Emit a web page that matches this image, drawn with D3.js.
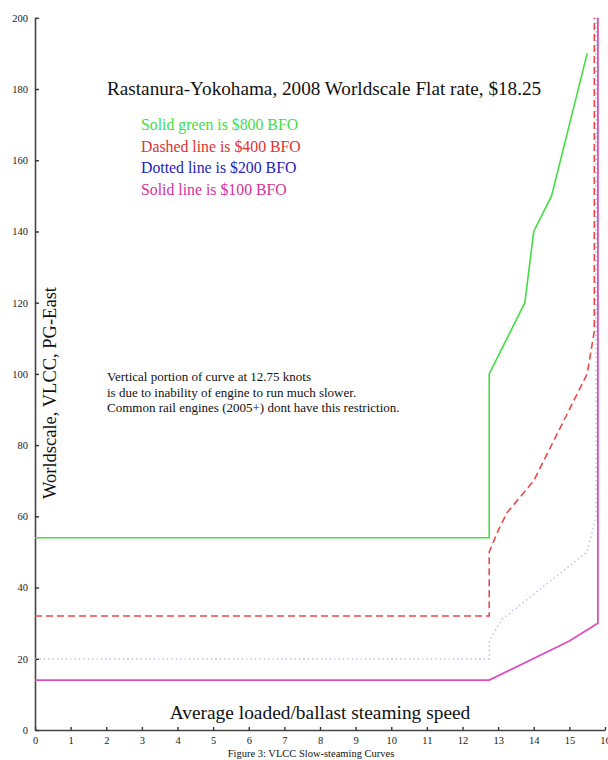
<!DOCTYPE html>
<html>
<head>
<meta charset="utf-8">
<script src="https://cdn.jsdelivr.net/npm/d3@7"></script>
<style>
  body { margin: 0; background: #fff; }
  text { font-family: "Liberation Serif", "DejaVu Serif", serif; }
</style>
</head>
<body>
<div id="chart"></div>
<script>
// values (knots, worldscale)
var xTicks = [0, 1, 2, 3, 4, 5, 6, 7, 8, 9, 10, 11, 12, 13, 14, 15, 16];
var yTicks = [0, 20, 40, 60, 80, 100, 120, 140, 160, 180, 200];

var green800 = [[0, 54], [12.75, 54], [12.75, 100], [13.75, 120], [14, 140], [14.5, 150], [15.5, 190]];
var red400 = [[0, 32], [12.75, 32], [12.75, 50], [13, 56], [13.25, 61], [14, 70], [15.5, 100], [15.7, 112], [15.7, 200]];
var blue200 = [[0, 20], [12.75, 20], [12.75, 25], [13.1, 31], [15.5, 50], [15.75, 60], [15.75, 200]];
var pink100 = [[0, 14], [12.75, 14], [15, 25], [15.8, 30], [15.8, 200]];

var legendLines = ['Solid green is $800 BFO', 'Dashed line is $400 BFO', 'Dotted line is $200 BFO', 'Solid line is $100 BFO'];
var legendColors = ['#44dd44', '#e03333', '#2323b8', '#d2339c'];
var noteLines = ['Vertical portion of curve at 12.75 knots',
    'is due to inability of engine to run much slower.',
    'Common rail engines (2005+) dont have this restriction.'];

var width = 608, height = 760;
var svg = d3.select('#chart').append('svg')
    .attr('width', width)
    .attr('height', height);

var x = d3.scaleLinear().domain([0, 16]).range([35, 605]);
var y = d3.scaleLinear().domain([0, 200]).range([730, 17.8]);

// axes - ticks point inwards like the original
var xAxis = svg.append('g')
    .attr('transform', 'translate(0,' + y(0) + ')')
    .call(d3.axisBottom(x).tickValues(xTicks).tickSize(-3).tickSizeOuter(0).tickPadding(6));
var yAxis = svg.append('g')
    .attr('transform', 'translate(' + x(0) + ',0)')
    .call(d3.axisLeft(y).tickValues(yTicks).tickSize(-4).tickSizeOuter(0).tickPadding(8));

[xAxis, yAxis].forEach(function(ax){
    ax.select('.domain').attr('stroke', '#444').attr('stroke-width', 1.6);
    ax.selectAll('.tick line').attr('stroke', '#333').attr('stroke-width', 1.4);
    ax.selectAll('.tick text')
        .attr('fill', '#222')
        .style('font-family', '"Liberation Serif", serif')
        .style('font-size', '10.5px');
});
xAxis.selectAll('.tick text').attr('y', 7);
yAxis.selectAll('.tick text').attr('x', -7);

var line = d3.line()
    .x(function(d){ return x(d[0]); })
    .y(function(d){ return y(d[1]); });

svg.append('path').datum(blue200)
    .attr('d', line).attr('fill', 'none')
    .attr('stroke', '#a4a8dc').attr('stroke-width', 1.2)
    .attr('stroke-dasharray', '1.2,3.2');

svg.append('path').datum(red400)
    .attr('d', line).attr('fill', 'none')
    .attr('stroke', '#e84a4a').attr('stroke-width', 1.6)
    .attr('stroke-dasharray', '7,4');

svg.append('path').datum(green800)
    .attr('d', line).attr('fill', 'none')
    .attr('stroke', '#44dd44').attr('stroke-width', 1.6);

svg.append('path').datum(pink100)
    .attr('d', line).attr('fill', 'none')
    .attr('stroke', '#dd4ebf').attr('stroke-width', 1.8);

// title
svg.append('text')
    .attr('x', 107).attr('y', 95)
    .style('font-size', '19.2px')
    .attr('fill', '#111')
    .text('Rastanura-Yokohama, 2008 Worldscale Flat rate, $18.25');

// legend text
svg.selectAll('.legend').data(legendLines).enter().append('text')
    .attr('class', 'legend')
    .attr('x', 141)
    .attr('y', function(d, i){ return 130 + i * 21.5; })
    .style('font-size', '15.8px')
    .attr('fill', function(d, i){ return legendColors[i]; })
    .text(function(d){ return d; });

// note
svg.selectAll('.note').data(noteLines).enter().append('text')
    .attr('class', 'note')
    .attr('x', 107)
    .attr('y', function(d, i){ return 381 + i * 15.5; })
    .style('font-size', '13px')
    .attr('fill', '#111')
    .text(function(d){ return d; });

// axis labels
svg.append('text')
    .attr('transform', 'translate(56,393) rotate(-90)')
    .attr('text-anchor', 'middle')
    .style('font-size', '18.5px')
    .attr('fill', '#111')
    .text('Worldscale, VLCC, PG-East');

svg.append('text')
    .attr('x', 320).attr('y', 719)
    .attr('text-anchor', 'middle')
    .style('font-size', '19.4px')
    .attr('fill', '#111')
    .text('Average loaded/ballast steaming speed');

svg.append('text')
    .attr('x', 311).attr('y', 757)
    .attr('text-anchor', 'middle')
    .style('font-size', '10.5px')
    .attr('fill', '#111')
    .text('Figure 3: VLCC Slow-steaming Curves');
</script>
</body>
</html>
